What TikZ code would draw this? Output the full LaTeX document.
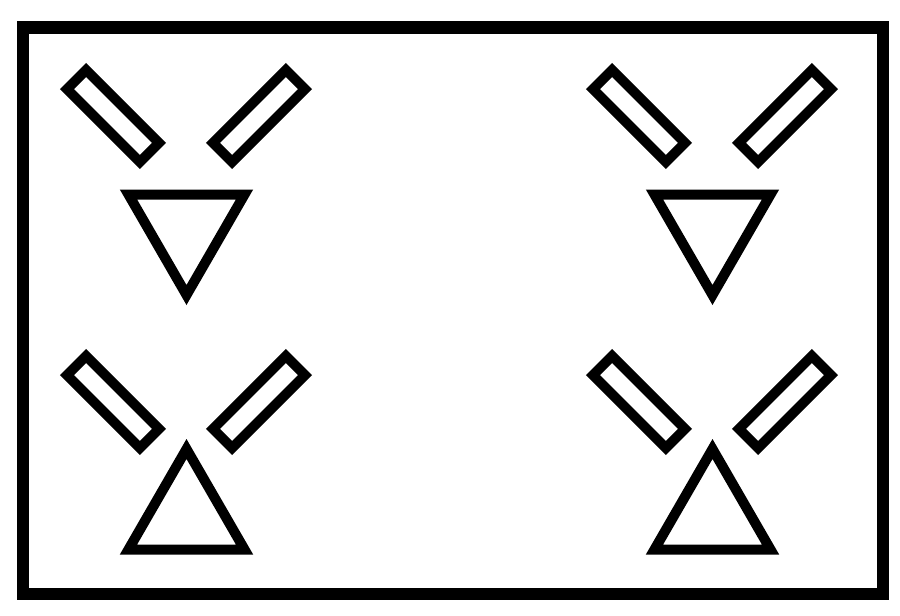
\documentclass[tikz,border=0pt]{standalone}
\usetikzlibrary{shapes.geometric}

\begin{document}
\begin{tikzpicture}[x=1pt,y=-1pt]
    \useasboundingbox (0,0) rectangle (900,616);
    %Frame
    \draw[line width=12.5pt] (23,27.5) rectangle (883,594);

    %Top row
     \begin{scope}[every node/.style={draw,line width=10pt,inner sep=0pt}]
       \foreach \g/\x in {a/0,b/526} {
         \node[minimum width=103pt,minimum height=27pt,rotate=-45] (lbar-\g) at (113+\x,116) {};
         \node[minimum width=103pt,minimum height=27pt,rotate=45] (rbar-\g) at (259+\x,116) {};
         \node[regular polygon,regular polygon sides=3,shape border rotate=180,
           minimum size=134pt] (down-\g) at (186.5+\x,228) {};
       }
    \end{scope}

    %Bottom row
     \begin{scope}[every node/.style={draw,line width=10pt,inner sep=0pt}]
       \foreach \g/\x in {a/0,b/526} {
         \node[minimum width=103pt,minimum height=27pt,rotate=-45] (lbar2-\g) at (113+\x,402) {};
         \node[minimum width=103pt,minimum height=27pt,rotate=45] (rbar2-\g) at (259+\x,402) {};
         \node[regular polygon,regular polygon sides=3,
           minimum size=134pt] (up-\g) at (186.5+\x,516) {};
       }
    \end{scope}
  \end{tikzpicture}
\end{document}
